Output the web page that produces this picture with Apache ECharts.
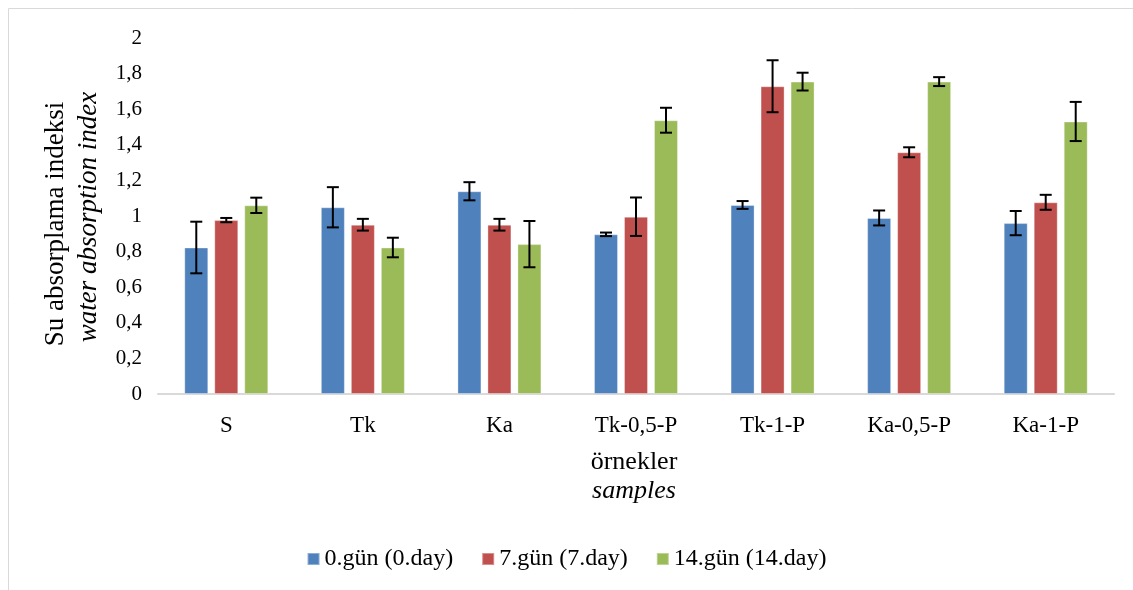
<!DOCTYPE html>
<html>
<head>
<meta charset="utf-8" />
<title>Su absorplama indeksi</title>
<style>
  html, body { margin: 0; padding: 0; background: #fff; }
  #main { width: 1133px; height: 590px; }
</style>
</head>
<body>
<div id="main"></div>
<script src="https://cdn.jsdelivr.net/npm/echarts@6/dist/echarts.min.js"></script>
<script>
const categories = ['S', 'Tk', 'Ka', 'Tk-0,5-P', 'Tk-1-P', 'Ka-0,5-P', 'Ka-1-P'];
const seriesNames = ['0.gün (0.day)', '7.gün (7.day)', '14.gün (14.day)'];
const colors = ['#4f81bd', '#c0504d', '#9bbb59'];

const day0 = [0.823, 1.049, 1.139, 0.897, 1.062, 0.989, 0.960];
const day7 = [0.977, 0.951, 0.951, 0.996, 1.729, 1.358, 1.077];
const day14 = [1.060, 0.823, 0.842, 1.538, 1.755, 1.755, 1.531];

const err0 = [0.145, 0.113, 0.051, 0.010, 0.022, 0.042, 0.068];
const err7 = [0.012, 0.033, 0.033, 0.108, 0.146, 0.028, 0.042];
const err14 = [0.043, 0.055, 0.130, 0.070, 0.050, 0.025, 0.110];

const values = [day0, day7, day14];
const errors = [err0, err7, err14];

const font = 'Liberation Serif, Times New Roman, serif';
const barW = 24;
const gapPx = 6;

const chart = echarts.init(document.getElementById('main'));

// error bars drawn next to each bar of a series
function errorSeries(idx) {
  const offset = (idx - 1) * (barW + gapPx);
  return {
    type: 'custom',
    name: seriesNames[idx] + ' err',
    z: 10,
    silent: true,
    data: values[idx].map((v, i) => [i, v - errors[idx][i], v + errors[idx][i]]),
    renderItem: function (params, api) {
      const lo = api.coord([api.value(0), api.value(1)]);
      const hi = api.coord([api.value(0), api.value(2)]);
      const x = lo[0] + offset;
      const cap = 6;
      const style = { stroke: '#000', lineWidth: 2 };
      return {
        type: 'group',
        children: [
          { type: 'line', shape: { x1: x, y1: lo[1], x2: x, y2: hi[1] }, style },
          { type: 'line', shape: { x1: x - cap, y1: lo[1], x2: x + cap, y2: lo[1] }, style },
          { type: 'line', shape: { x1: x - cap, y1: hi[1], x2: x + cap, y2: hi[1] }, style }
        ]
      };
    }
  };
}

const barSeries = values.map((vals, idx) => ({
  type: 'bar',
  name: seriesNames[idx],
  data: vals,
  barWidth: barW,
  barGap: '25%',
  itemStyle: { color: colors[idx], borderColor: 'rgba(255,255,255,0.35)', borderWidth: 1 }
}));

const option = {
  backgroundColor: '#fff',
  animation: false,
  textStyle: { fontFamily: font },
  grid: { left: 158, right: 19, top: 38, bottom: 196 },
  legend: {
    bottom: 14,
    left: 'center',
    data: seriesNames,
    itemWidth: 12,
    itemHeight: 12,
    itemGap: 28,
    icon: 'rect',
    textStyle: { fontFamily: font, fontSize: 24, color: '#000' }
  },
  xAxis: {
    type: 'category',
    data: categories,
    axisLine: { lineStyle: { color: '#d9d9d9', width: 2 } },
    axisTick: { show: false },
    axisLabel: { fontFamily: font, fontSize: 23, color: '#000', margin: 20 }
  },
  yAxis: {
    type: 'value',
    min: 0,
    max: 2,
    interval: 0.2,
    splitLine: { show: false },
    axisLine: { show: false },
    axisTick: { show: false },
    axisLabel: {
      fontFamily: font, fontSize: 21, color: '#000', margin: 16,
      formatter: v => String(Math.round(v * 10) / 10).replace('.', ',')
    }
  },
  graphic: [
    {
      type: 'rect',
      shape: { x: 8.5, y: 8.5, width: 1140, height: 600 },
      style: { fill: 'none', stroke: '#d9d9d9', lineWidth: 1 },
      silent: true
    },
    {
      type: 'text', x: 56, y: 224, rotation: Math.PI / 2,
      style: { text: 'Su absorplama indeksi', font: '27px ' + font, fill: '#000', align: 'center', verticalAlign: 'middle' }
    },
    {
      type: 'text', x: 89, y: 217, rotation: Math.PI / 2,
      style: { text: 'water absorption index', font: 'italic 27px ' + font, fill: '#000', align: 'center', verticalAlign: 'middle' }
    },
    {
      type: 'text', x: 634, y: 462,
      style: { text: 'örnekler', font: '26px ' + font, fill: '#000', align: 'center', verticalAlign: 'middle' }
    },
    {
      type: 'text', x: 634, y: 491,
      style: { text: 'samples', font: 'italic 26px ' + font, fill: '#000', align: 'center', verticalAlign: 'middle' }
    }
  ],
  series: barSeries.concat([0, 1, 2].map(errorSeries))
};
chart.setOption(option);
</script>
</body>
</html>
